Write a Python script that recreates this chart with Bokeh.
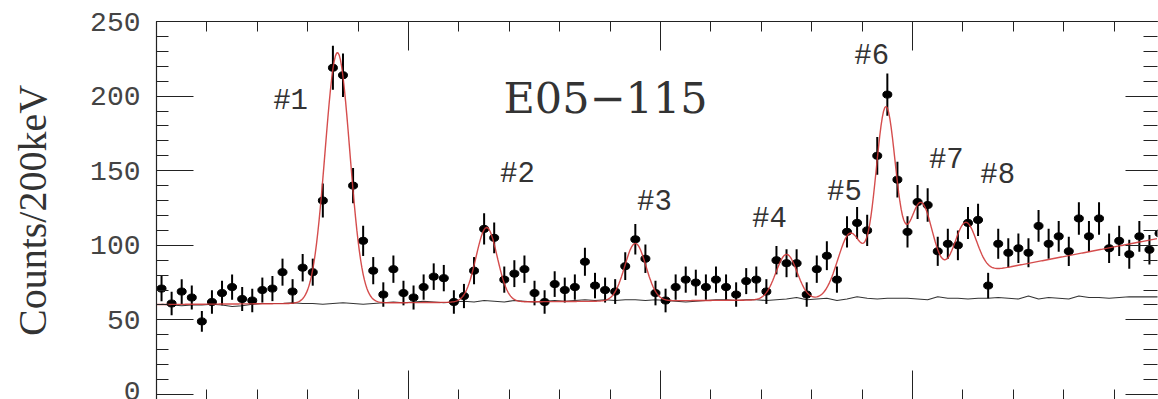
import numpy as np
from bokeh.plotting import figure
from bokeh.models import Range1d, LinearAxis, SingleIntervalTicker, Label, ColumnDataSource, CustomJSTickFormatter
from bokeh.core.properties import value
from bokeh.embed import file_html
from bokeh.resources import INLINE

# --- spectrum: counts per 200 keV bin, starting at 0 MeV ---
bin_width = 0.2  # MeV
counts = [
    71, 61, 69, 65, 49, 62, 68, 72, 64, 63, 70, 71, 82, 69, 85, 82,
    130, 219, 214, 140, 103, 83, 67, 84, 68, 65, 72, 79, 78, 62, 66, 83,
    111, 105, 77, 81, 84, 68, 62, 74, 70, 72, 89, 73, 70, 69, 86, 104,
    91, 68, 63, 72, 77, 75, 72, 77, 72, 67, 76, 77, 69, 90, 88, 88,
    67, 84, 93, 77, 109, 115, 110, 160, 201, 144, 109, 129, 127, 96, 101, 100,
    115, 117, 73, 101, 95, 98, 95, 113, 101, 106, 96, 118, 106, 118, 98, 103, 94, 106, 97, 108,
]

# accidental-coincidence background shape (same binning)
accidental_bg = [
    60.5, 60, 59.5, 60, 60, 60.5, 60, 59, 59.5, 60.5, 61, 61, 61, 61.5, 61, 61,
    60.5, 61, 61.5, 61, 60.5, 61, 61.5, 62, 61.5, 62, 62.5, 62, 61.5, 62, 62.5, 62,
    63, 62.5, 62, 63, 62.5, 62, 62.5, 63, 62.5, 63, 63.5, 63, 63.5, 63, 63.5, 63.5,
    63, 63.5, 63, 62.5, 62, 62.5, 63, 63.5, 63.5, 63, 63.5, 63.5, 63, 63.5, 64, 65,
    63.5, 64, 64.5, 63, 64, 65.5, 64.5, 64, 64.5, 64.5, 64.5, 64, 63.5, 65.5, 64.5, 64.5,
    64, 64.5, 64.5, 65, 64.5, 64, 66, 64, 65, 64.5, 64, 66, 65, 65, 64.5, 65, 65.5, 65.5, 65.5, 65.5,
]

# fitted peaks (MeV, counts, MeV)
peak_labels = ["#1", "#2", "#3", "#4", "#5", "#6", "#7", "#8"]
peak_center = [3.59, 6.55, 9.50, 12.50, 13.76, 14.47, 15.16, 16.05]
peak_height = [168.0, 50.0, 38.6, 30.5, 43.0, 122.0, 54.5, 35.6]
peak_sigma = [0.245, 0.21, 0.21, 0.21, 0.25, 0.20, 0.236, 0.22]

# smooth baseline of the fit (offset, slope per MeV) and quasi-free continuum
baseline_fit = [60.3, 0.25]
continuum_threshold = 13.57  # MeV
continuum_slope = 6.24       # counts / MeV

# peak-tag placement (MeV, counts)
label_x = [2.66, 7.16, 9.88, 12.16, 13.65, 14.19, 15.67, 16.69]
label_y = [196.4, 147.5, 128.7, 117.3, 135.4, 226.5, 156.8, 146.8]

n = len(counts)
x_c = bin_width * (np.arange(n) + 0.5)
y = np.array(counts, dtype=float)
err = np.sqrt(y)

# total fit curve
xf = np.arange(0.0, 19.87, 0.025)
fit = baseline_fit[0] + baseline_fit[1] * xf
fit = fit + continuum_slope * np.clip(xf - continuum_threshold, 0, None)
for c, a, s in zip(peak_center, peak_height, peak_sigma):
    fit = fit + a * np.exp(-0.5 * ((xf - c) / s) ** 2)

p = figure(
    width=1158, height=399,
    x_range=Range1d(0, 19.86), y_range=Range1d(-3.35, 250),
    output_backend="svg", toolbar_location=None,
    x_axis_location=None, y_axis_location=None,
    min_border_left=156, min_border_right=1, min_border_top=21, min_border_bottom=0,
)
p.grid.visible = False
p.outline_line_color = None
p.background_fill_color = "white"
p.border_fill_color = "white"

AXIS_COLOR = "#222222"


def tick_only_axis(interval, tick_in, minor_in, line_color):
    # frame-side axis carrying inward ticks only
    ax = LinearAxis(ticker=SingleIntervalTicker(interval=interval, num_minor_ticks=5))
    ax.formatter = CustomJSTickFormatter(code="return ''")
    ax.major_tick_in = tick_in
    ax.major_tick_out = 0
    ax.minor_tick_in = minor_in
    ax.minor_tick_out = 0
    ax.major_label_text_color = None
    ax.major_label_text_font_size = "1px"
    ax.major_label_standoff = 0
    ax.axis_line_color = line_color
    ax.axis_line_width = 1.2
    ax.major_tick_line_color = AXIS_COLOR
    ax.minor_tick_line_color = AXIS_COLOR
    return ax


p.add_layout(tick_only_axis(5, 29, 10, AXIS_COLOR), "above")
p.add_layout(tick_only_axis(5, 29, 10, None), "below")
p.add_layout(tick_only_axis(50, 32, 14, None), "right")

yl = LinearAxis(ticker=SingleIntervalTicker(interval=50, num_minor_ticks=5))
yl.axis_label = "Counts/200keV"
yl.axis_label_text_font = "Liberation Serif"
yl.axis_label_text_font_size = "40px"
yl.axis_label_text_font_style = "normal"
yl.axis_label_text_color = "#333333"
yl.axis_label_standoff = 32
yl.major_label_text_font = "Liberation Mono"
yl.major_label_text_font_size = "28px"
yl.major_label_text_color = "#444444"
yl.major_label_standoff = 16
yl.major_tick_in = 37
yl.major_tick_out = 0
yl.minor_tick_in = 12
yl.minor_tick_out = 0
yl.axis_line_color = AXIS_COLOR
yl.axis_line_width = 1.2
yl.major_tick_line_color = AXIS_COLOR
yl.minor_tick_line_color = AXIS_COLOR
p.add_layout(yl, "left")

src = ColumnDataSource(dict(x=x_c, y=y, lo=y - err, hi=y + err, bg=accidental_bg))

# accidental background
p.line("x", "bg", source=src, line_color="#333333", line_width=1.2)

# data with statistical errors
p.segment(x0="x", y0="lo", x1="x", y1="hi", source=src, line_color="black", line_width=2)
p.ellipse(x="x", y="y", width=9, height=7, width_units="screen", height_units="screen",
          source=src, fill_color="black", line_color="black")

# fit
p.line(xf, fit, line_color="#d03a3a", line_width=1.4, line_alpha=0.9)

# peak tags
p.text(x=label_x, y=label_y, text=peak_labels,
       text_font=value("Liberation Mono"), text_font_size="29px",
       text_color="#333333", text_align="center", text_baseline="middle")

p.add_layout(Label(x=8.91, y=198.7, text="E05\u2212115",
                   text_font="DejaVu Serif", text_font_size="43px",
                   text_color="#333333", text_align="center", text_baseline="middle"))

p.add_layout(Label(x=5.08, y=262.0, text="\u039b",
                   text_font="Liberation Serif", text_font_style="bold",
                   text_font_size="44px", text_color="blue",
                   text_align="center", text_baseline="alphabetic"))

open("out.html", "w").write(file_html(p, INLINE))
